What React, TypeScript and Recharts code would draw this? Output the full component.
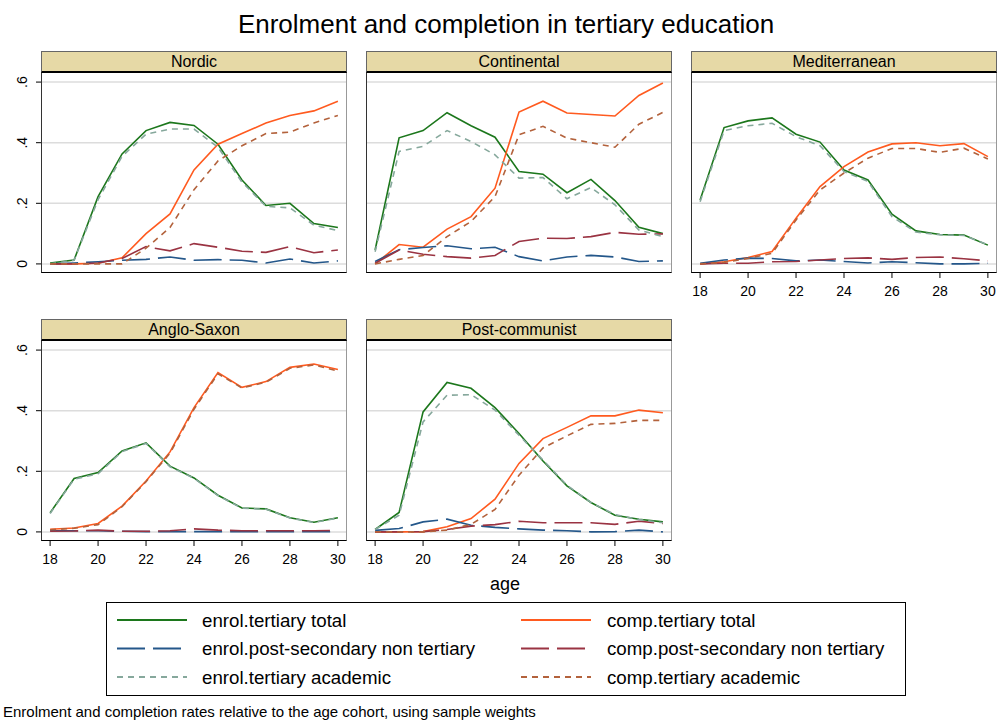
import { CartesianGrid, Line, LineChart, XAxis, YAxis } from "recharts";

const ages = [18, 19, 20, 21, 22, 23, 24, 25, 26, 27, 28, 29, 30];
const ageTicks = [18, 20, 22, 24, 26, 28, 30];
const shareTicks = [0, 0.2, 0.4, 0.6];

// Nordic
const nordicEnrolTotal = [0.003, 0.013, 0.222, 0.363, 0.44, 0.467, 0.457, 0.395, 0.277, 0.193, 0.2, 0.133, 0.12];
const nordicEnrolPost = [0, 0.003, 0.007, 0.012, 0.015, 0.023, 0.012, 0.014, 0.012, 0.003, 0.016, 0.003, 0.01];
const nordicEnrolAcad = [0, 0.012, 0.212, 0.355, 0.428, 0.445, 0.445, 0.385, 0.27, 0.19, 0.185, 0.128, 0.11];
const nordicCompTotal = [0, 0, 0.002, 0.02, 0.1, 0.165, 0.31, 0.395, 0.43, 0.465, 0.49, 0.505, 0.537];
const nordicCompPost = [0, 0, 0.003, 0.018, 0.057, 0.043, 0.067, 0.055, 0.042, 0.038, 0.057, 0.037, 0.046];
const nordicCompAcad = [0, 0, 0, 0, 0.052, 0.12, 0.245, 0.34, 0.39, 0.43, 0.435, 0.465, 0.49];

// Continental
const contEnrolTotal = [0.046, 0.416, 0.44, 0.499, 0.456, 0.418, 0.305, 0.296, 0.235, 0.279, 0.209, 0.121, 0.1];
const contEnrolPost = [0.008, 0.047, 0.054, 0.06, 0.05, 0.055, 0.024, 0.01, 0.023, 0.028, 0.023, 0.008, 0.01];
const contEnrolAcad = [0.04, 0.371, 0.388, 0.44, 0.404, 0.36, 0.283, 0.285, 0.215, 0.252, 0.195, 0.112, 0.09];
const contCompTotal = [0, 0.064, 0.055, 0.115, 0.156, 0.25, 0.501, 0.537, 0.498, 0.493, 0.488, 0.556, 0.597];
const contCompPost = [0.002, 0.046, 0.032, 0.024, 0.019, 0.028, 0.074, 0.085, 0.084, 0.09, 0.104, 0.098, 0.099];
const contCompAcad = [0, 0.015, 0.028, 0.09, 0.14, 0.222, 0.426, 0.454, 0.415, 0.4, 0.385, 0.461, 0.5];

// Mediterranean
const medEnrolTotal = [0.211, 0.45, 0.472, 0.482, 0.428, 0.402, 0.31, 0.277, 0.164, 0.109, 0.097, 0.095, 0.062];
const medEnrolPost = [0.002, 0.013, 0.019, 0.018, 0.01, 0.013, 0.008, 0.003, 0.007, 0.004, 0, 0, 0.002];
const medEnrolAcad = [0.205, 0.44, 0.456, 0.464, 0.42, 0.39, 0.305, 0.272, 0.156, 0.105, 0.096, 0.094, 0.063];
const medCompTotal = [0, 0.007, 0.021, 0.041, 0.151, 0.255, 0.321, 0.369, 0.396, 0.4, 0.39, 0.397, 0.354];
const medCompPost = [0, 0.002, 0.002, 0.007, 0.008, 0.013, 0.018, 0.02, 0.015, 0.021, 0.023, 0.017, 0.01];
const medCompAcad = [0, 0.005, 0.018, 0.035, 0.145, 0.244, 0.3, 0.349, 0.381, 0.381, 0.368, 0.382, 0.346];

// Anglo-Saxon
const angloEnrolTotal = [0.063, 0.176, 0.196, 0.267, 0.294, 0.217, 0.178, 0.121, 0.079, 0.076, 0.047, 0.032, 0.047];
const angloEnrolPost = [0.004, 0.004, 0.004, 0.002, 0.001, 0.001, 0.001, 0.001, 0.001, 0.001, 0.001, 0.001, 0.001];
const angloEnrolAcad = [0.061, 0.174, 0.192, 0.265, 0.292, 0.215, 0.177, 0.12, 0.078, 0.075, 0.046, 0.031, 0.046];
const angloCompTotal = [0.009, 0.013, 0.028, 0.085, 0.168, 0.264, 0.41, 0.526, 0.477, 0.496, 0.543, 0.554, 0.536];
const angloCompPost = [0.002, 0.003, 0.006, 0.002, 0.002, 0.004, 0.01, 0.006, 0.004, 0.004, 0.004, 0.004, 0.005];
const angloCompAcad = [0.007, 0.012, 0.024, 0.083, 0.166, 0.26, 0.405, 0.522, 0.475, 0.494, 0.54, 0.551, 0.531];

// Post-communist
const postEnrolTotal = [0.008, 0.064, 0.396, 0.493, 0.474, 0.41, 0.325, 0.234, 0.152, 0.097, 0.055, 0.042, 0.033];
const postEnrolPost = [0.005, 0.011, 0.033, 0.042, 0.022, 0.015, 0.01, 0.006, 0.004, 0, 0.001, 0.006, 0];
const postEnrolAcad = [0.008, 0.055, 0.363, 0.451, 0.453, 0.402, 0.319, 0.237, 0.154, 0.097, 0.057, 0.041, 0.03];
const postCompTotal = [0, 0, 0.001, 0.017, 0.044, 0.108, 0.226, 0.308, 0.345, 0.383, 0.383, 0.402, 0.393];
const postCompPost = [0, 0, 0.001, 0.008, 0.019, 0.024, 0.035, 0.03, 0.03, 0.03, 0.025, 0.035, 0.028];
const postCompAcad = [0, 0, 0, 0.006, 0.025, 0.074, 0.187, 0.277, 0.317, 0.355, 0.358, 0.368, 0.368];

const FONT = "'Liberation Sans', Arial, Helvetica, sans-serif";
const LONG_DASH = "28 8";
const SHORT_DASH = "6 5";

// legend order = draw order (filled row by row, 2 columns)
const series = [
  { key: "enrolTotal", label: "enrol.tertiary total", color: "#1c771c", dash: undefined },
  { key: "compTotal", label: "comp.tertiary total", color: "#ff5a1f", dash: undefined },
  { key: "enrolPost", label: "enrol.post-secondary non tertiary", color: "#24578a", dash: LONG_DASH },
  { key: "compPost", label: "comp.post-secondary non tertiary", color: "#9a3342", dash: LONG_DASH },
  { key: "enrolAcad", label: "enrol.tertiary academic", color: "#86a89c", dash: SHORT_DASH },
  { key: "compAcad", label: "comp.tertiary academic", color: "#b3623c", dash: SHORT_DASH },
];

function buildRows(et: number[], ep: number[], ea: number[], ct: number[], cp: number[], ca: number[]) {
  return ages.map((age, i) => ({
    age,
    enrolTotal: et[i],
    enrolPost: ep[i],
    enrolAcad: ea[i],
    compTotal: ct[i],
    compPost: cp[i],
    compAcad: ca[i],
  }));
}

const panels = [
  { title: "Nordic", left: 41, top: 73, yAxis: true, xAxis: false,
    rows: buildRows(nordicEnrolTotal, nordicEnrolPost, nordicEnrolAcad, nordicCompTotal, nordicCompPost, nordicCompAcad) },
  { title: "Continental", left: 366, top: 73, yAxis: false, xAxis: false,
    rows: buildRows(contEnrolTotal, contEnrolPost, contEnrolAcad, contCompTotal, contCompPost, contCompAcad) },
  { title: "Mediterranean", left: 691, top: 73, yAxis: false, xAxis: true,
    rows: buildRows(medEnrolTotal, medEnrolPost, medEnrolAcad, medCompTotal, medCompPost, medCompAcad) },
  { title: "Anglo-Saxon", left: 41, top: 341, yAxis: true, xAxis: true,
    rows: buildRows(angloEnrolTotal, angloEnrolPost, angloEnrolAcad, angloCompTotal, angloCompPost, angloCompAcad) },
  { title: "Post-communist", left: 366, top: 341, yAxis: false, xAxis: true,
    rows: buildRows(postEnrolTotal, postEnrolPost, postEnrolAcad, postCompTotal, postCompPost, postCompAcad) },
];

const PLOT_W = 306;
const PLOT_H = 200;

const fmtShare = (v: number) => (v === 0 ? "0" : String(v).replace(/^0/, ""));

function YTick(props: any) {
  const { y, payload } = props;
  return (
    <text x={27} y={y} transform={`rotate(-90, 27, ${y})`} textAnchor="middle" fontSize={14} fill="#000" fontFamily={FONT}>
      {fmtShare(payload.value)}
    </text>
  );
}

function Panel({ title, left, top, yAxis, xAxis, rows }: any) {
  const yw = yAxis ? 41 : 0;
  const xh = xAxis ? 30 : 0;
  return (
    <>
      <div
        style={{
          position: "absolute", left, top: top - 22, width: PLOT_W, height: 22,
          background: "#e6d9a6", border: "1px solid #666", borderBottom: "2px solid #000",
          boxSizing: "border-box", textAlign: "center", fontSize: 16, lineHeight: "19px", color: "#000",
        }}
      >
        {title}
      </div>
      <div style={{ position: "absolute", left: left - yw, top }}>
        <LineChart width={PLOT_W + yw} height={PLOT_H + xh} data={rows} margin={{ top: 0, right: 0, bottom: 0, left: 0 }}>
          <CartesianGrid vertical={false} horizontalValues={shareTicks} stroke="#dcdcdc" strokeWidth={1.5} />
          <XAxis
            dataKey="age"
            type="number"
            domain={[17.62, 30.38]}
            ticks={ageTicks}
            hide={!xAxis}
            height={xh}
            axisLine={false}
            tickSize={5}
            tickMargin={8}
            tickLine={{ stroke: "#000" }}
            tick={{ fontSize: 14, fill: "#000", fontFamily: FONT }}
          />
          <YAxis
            type="number"
            domain={[-0.03, 0.63]}
            ticks={shareTicks}
            hide={!yAxis}
            width={yw}
            axisLine={false}
            tickSize={5}
            tickLine={{ stroke: "#000" }}
            tick={<YTick />}
          />
          {series.map((s) => (
            <Line
              key={s.key}
              type="linear"
              dataKey={s.key}
              stroke={s.color}
              strokeWidth={1.6}
              strokeDasharray={s.dash}
              dot={false}
              activeDot={false}
              isAnimationActive={false}
            />
          ))}
        </LineChart>
      </div>
      <div
        style={{
          position: "absolute", left, top, width: PLOT_W, height: PLOT_H, boxSizing: "border-box",
          borderLeft: "1px solid #333", borderBottom: "1px solid #000", borderRight: "1px solid #999",
          pointerEvents: "none",
        }}
      />
    </>
  );
}

export default function App() {
  const rowY = [620, 648.5, 677];
  return (
    <div style={{ position: "absolute", left: 0, top: 0, width: 997, height: 720, background: "#fff", fontFamily: FONT, overflow: "hidden" }}>
      <svg width={997} height={720} style={{ position: "absolute", left: 0, top: 0 }} fontFamily={FONT}>
        <text x={506} y={33} textAnchor="middle" fontSize={26} fill="#000">
          Enrolment and completion in tertiary education
        </text>
        <text x={505} y={590} textAnchor="middle" fontSize={18} fill="#000">age</text>
        <rect x={106.5} y={602.5} width={799} height={93} fill="#fff" stroke="#000" strokeWidth={1} />
        {series.map((s, i) => {
          const col = i % 2;
          const y = rowY[Math.floor(i / 2)];
          const x1 = col ? 521 : 117;
          const tx = col ? 607 : 202;
          return (
            <g key={s.key}>
              <line x1={x1} x2={x1 + 70} y1={y} y2={y} stroke={s.color} strokeWidth={2} strokeDasharray={s.dash} />
              <text x={tx} y={y} dominantBaseline="central" fontSize={18.7} fill="#000">{s.label}</text>
            </g>
          );
        })}
        <text x={3} y={717} fontSize={15} fill="#000">
          Enrolment and completion rates relative to the age cohort, using sample weights
        </text>
      </svg>
      {panels.map((p) => (
        <Panel key={p.title} {...p} />
      ))}
    </div>
  );
}
